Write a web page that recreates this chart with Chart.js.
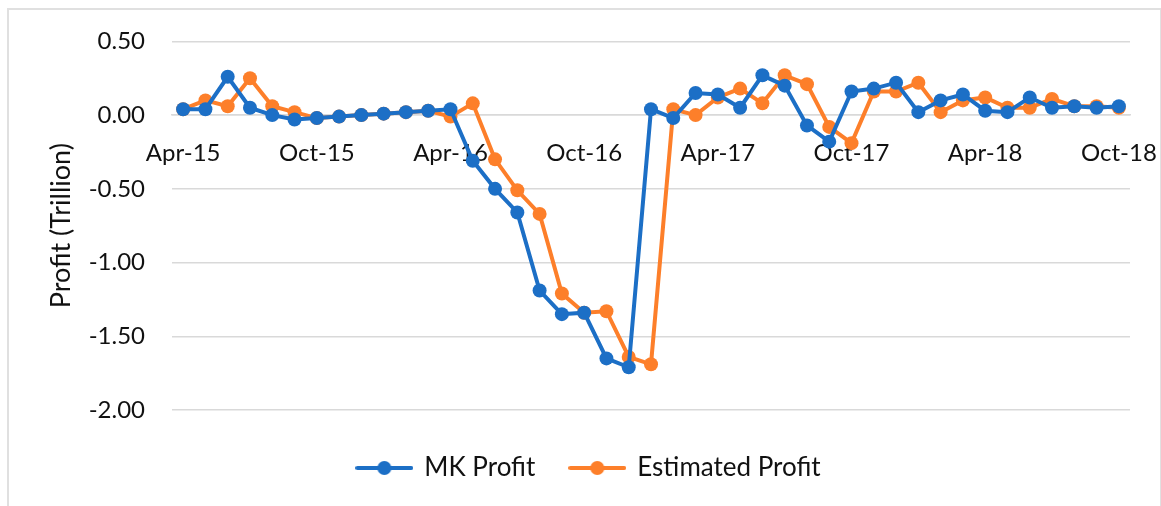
<!DOCTYPE html>
<html>
<head>
<meta charset="utf-8">
<script src="https://cdn.jsdelivr.net/npm/chart.js@4"></script>
<style>
    html, body { margin: 0; padding: 0; background: #fff; overflow: hidden; }
    #wrap { position: relative; width: 1161px; height: 506px; }
    #frame {
        position: absolute; left: 7px; top: 8px; width: 1151px; height: 560px;
        border: 2px solid #e0e0e0; pointer-events: none;
    }
</style>
</head>
<body>
<div id="wrap">
    <canvas id="profit-chart" width="1161" height="506"></canvas>
    <div id="frame"></div>
</div>
<script>
// --- data --- //
const months = [
    "Apr-15", "May-15", "Jun-15", "Jul-15", "Aug-15", "Sep-15", "Oct-15", "Nov-15", "Dec-15",
    "Jan-16", "Feb-16", "Mar-16", "Apr-16", "May-16", "Jun-16", "Jul-16", "Aug-16", "Sep-16",
    "Oct-16", "Nov-16", "Dec-16", "Jan-17", "Feb-17", "Mar-17", "Apr-17", "May-17", "Jun-17",
    "Jul-17", "Aug-17", "Sep-17", "Oct-17", "Nov-17", "Dec-17", "Jan-18", "Feb-18", "Mar-18",
    "Apr-18", "May-18", "Jun-18", "Jul-18", "Aug-18", "Sep-18", "Oct-18"
];

const mkProfit = [
    0.04, 0.04, 0.26, 0.05, 0.00, -0.03, -0.02, -0.01, 0.00, 0.01, 0.02, 0.03,
    0.04, -0.31, -0.50, -0.66, -1.19, -1.35, -1.34, -1.65, -1.71, 0.04, -0.02, 0.15,
    0.14, 0.05, 0.27, 0.20, -0.07, -0.18, 0.16, 0.18, 0.22, 0.02, 0.10, 0.14,
    0.03, 0.02, 0.12, 0.05, 0.06, 0.05, 0.06
];

const estimatedProfit = [
    0.04, 0.10, 0.06, 0.25, 0.06, 0.02, -0.02, -0.01, 0.00, 0.01, 0.02, 0.03,
    -0.01, 0.08, -0.30, -0.51, -0.67, -1.21, -1.34, -1.33, -1.64, -1.69, 0.04, 0.00,
    0.12, 0.18, 0.08, 0.27, 0.21, -0.08, -0.19, 0.16, 0.16, 0.22, 0.02, 0.10,
    0.12, 0.05, 0.05, 0.11, 0.06, 0.06, 0.05
];

const yTicks = [0.5, 0, -0.5, -1, -1.5, -2];

const blue = '#1c6fc6';
const orange = '#fd7f2a';
const font = "Lato, 'Open Sans', sans-serif";

// legend marker: short line with a dot in the middle
const makeMarker = color => {
    const c = document.createElement('canvas');
    c.width = 58;
    c.height = 16;
    const ctx = c.getContext('2d');
    ctx.strokeStyle = color;
    ctx.lineWidth = 4;
    ctx.lineCap = 'round';
    ctx.beginPath();
    ctx.moveTo(2, 8);
    ctx.lineTo(56, 8);
    ctx.stroke();
    ctx.fillStyle = color;
    ctx.beginPath();
    ctx.arc(29, 8, 7, 0, Math.PI * 2);
    ctx.fill();
    return c;
};

// nudge the legend down / right, like the excel original
const legendNudge = {
    id: 'legendNudge',
    afterLayout: chart => {
        const lg = chart.legend;
        lg.top += 10;
        lg.bottom += 10;
        lg.left += 24;
        lg.right += 24;
    }
};

const profitData = {
    labels: months,
    datasets: [{
        label: 'MK Profit',
        data: mkProfit,
        borderColor: blue,
        backgroundColor: blue,
        borderWidth: 4,
        pointRadius: 7,
        pointBorderWidth: 0,
        pointBackgroundColor: blue,
        tension: 0
    }, {
        label: 'Estimated Profit',
        data: estimatedProfit,
        borderColor: orange,
        backgroundColor: orange,
        borderWidth: 4,
        pointRadius: 7,
        pointBorderWidth: 0,
        pointBackgroundColor: orange,
        tension: 0
    }]
};

const profitOptions = {
    responsive: false,
    animation: false,
    layout: {
        padding: { left: 0, right: 31, top: 41, bottom: 25 }
    },
    scales: {
        x: {
            type: 'category',
            offset: true,
            position: { y: 0 },
            afterFit: scale => {
                // don't let the last label eat into the plot width
                scale.paddingLeft = 0;
                scale.paddingRight = 0;
            },
            grid: { display: false },
            border: { display: true, color: '#d9d9d9', width: 1.5 },
            ticks: {
                autoSkip: false,
                maxRotation: 0,
                padding: 16,
                color: '#111',
                font: { family: font, size: 24 },
                callback: function (value, index) {
                    return index % 6 === 0 ? this.getLabelForValue(value) : '';
                }
            }
        },
        y: {
            min: -2,
            max: 0.5,
            afterFit: scale => { scale.width = 172; },
            afterBuildTicks: scale => {
                scale.ticks = yTicks.map(v => ({ value: v }));
            },
            border: { display: false },
            grid: { color: '#d9d9d9', lineWidth: 1.5, drawTicks: false },
            ticks: {
                padding: 27,
                color: '#111',
                font: { family: font, size: 24 },
                callback: v => v.toFixed(2)
            },
            title: {
                display: true,
                text: 'Profit (Trillion)',
                color: '#111',
                font: { family: font, size: 27 },
                padding: { top: 45, bottom: 0 }
            }
        }
    },
    plugins: {
        legend: {
            position: 'bottom',
            labels: {
                usePointStyle: true,
                pointStyleWidth: 54,
                padding: 35,
                color: '#111',
                font: { family: font, size: 26 },
                generateLabels: chart => chart.data.datasets.map((ds, i) => ({
                    text: ds.label,
                    pointStyle: makeMarker(ds.borderColor),
                    fillStyle: ds.borderColor,
                    strokeStyle: ds.borderColor,
                    lineWidth: 0,
                    fontColor: '#111',
                    datasetIndex: i
                }))
            }
        },
        tooltip: { enabled: false }
    }
};

const profitChart = new Chart(document.getElementById('profit-chart'), {
    type: 'line',
    data: profitData,
    options: profitOptions,
    plugins: [legendNudge]
});
</script>
</body>
</html>
